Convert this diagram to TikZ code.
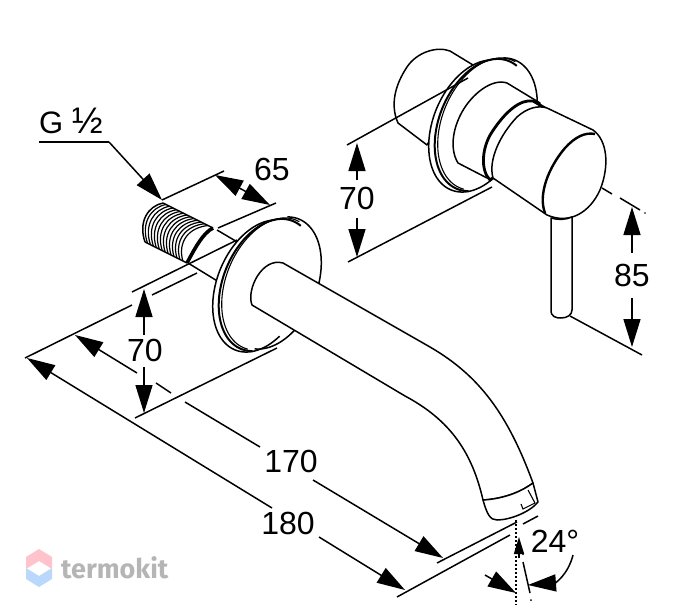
\documentclass[tikz,border=0pt]{standalone}
\usepackage{fontspec}
\setmainfont{Liberation Sans}
\newfontfamily\wmfont{Fira Sans}
\usetikzlibrary{arrows.meta}
\definecolor{wmblue}{HTML}{B9D8FB}
\definecolor{wmpink}{HTML}{FFC3CB}
\definecolor{wmgray}{HTML}{B5B5B5}
\newcommand{\ellarc}[8][]{%
  \draw[#1] plot[domain=#7:#8,samples=60,smooth,variable=\t]
  ({#2+#4*cos(\t)*cos(#6)+#5*sin(\t)*sin(#6)},{#3-#4*cos(\t)*sin(#6)+#5*sin(\t)*cos(#6)});}
\newcommand{\ellfill}[5]{%
  \fill[white] plot[domain=0:360,samples=60,smooth,variable=\t]
  ({#1+#3*cos(\t)*cos(#5)+#4*sin(\t)*sin(#5)},{#2-#3*cos(\t)*sin(#5)+#4*sin(\t)*cos(#5)}) -- cycle;}
\tikzset{
  ln/.style={line width=1.5pt,black,line join=round},
  thin ln/.style={line width=1.1pt,black},
  dimln/.style={line width=1.5pt,black},
  dimarrow/.style={line width=1.5pt,black,-{Triangle[length=28pt,width=17pt]}},
  dimshort/.style={line width=1.5pt,black,-{Triangle[length=17pt,width=10pt]}},
  dimtext/.style={inner sep=0pt,font=\fontsize{32}{34}\selectfont,text=black},
}
\begin{document}
\begin{tikzpicture}[x=1pt,y=-1pt]
\useasboundingbox (0,0) rectangle (673,613);
\fill[white] (0,0) rectangle (673,613);
% ---------- left figure : thread and nipple
\draw[ln] (217,230) -- (239,243);
\draw[ln] (188,263) -- (219,282);
\draw[ln] (163,203) -- (213,228);
\draw[ln] (145,242) -- (187,263);
\draw[ln] (163,203) .. controls (148,206) and (138,222) .. (145,242);
\foreach \s in {0.06,0.13,...,0.96}{
  \draw[line width=1.2pt] ({163+50*\s},{203+25*\s}) .. controls ({148+45*\s},{206+24*\s}) and ({138+44*\s},{222+22*\s}) .. ({145+42*\s},{242+21*\s});
}
\draw[line width=3.6pt] (213,228) .. controls (203,233) and (195,248) .. (187,263);
% ---------- left figure : flange
\ellfill{273}{283}{69}{44}{68}
\ellfill{261}{286}{69}{44}{68}
\ellarc[ln]{273}{283}{69}{44}{68}{-15}{170}
\ellarc[ln]{261}{286}{69}{44}{68}{125}{345}
\ellarc[line width=2pt]{267}{285}{69}{44}{68}{165}{372}
\ellarc[line width=1.1pt]{270}{284}{69}{44}{68}{175}{365}
% ---------- left figure : spout
\draw[ln,fill=white] (252,305) .. controls (246,290) and (262,257) .. (283,263)
  -- (430,347) .. controls (480,376) and (508,415) .. (533,483)
  .. controls (518,494) and (500,499) .. (483,500)
  .. controls (472,452) and (450,420) .. (405,396) -- cycle;
\draw[ln,fill=white] (483,500) .. controls (500,499) and (518,494) .. (533,483)
  -- (538,502) .. controls (530,512) and (510,520) .. (497,520)
  .. controls (490,520) and (487,514) .. (483,500) -- cycle;
\draw[thin ln] (528,490) -- (535,503) -- (523,509) -- (521,504);
% ---------- left figure : dimension lines
\node[inner sep=0pt,anchor=base west,font=\fontsize{31}{32}\selectfont,text=black] (gtext) at (39,133) {G {\fontsize{37}{38}\selectfont ½}};
\coordinate (g0) at (39,142); \coordinate (g1) at (109,142); \coordinate (g2) at (162,200);
\draw[ln] (g0) -- (g1);
\draw[dimarrow] (g1) -- (g2);
\coordinate (a65l1) at (162,200); \coordinate (a65l2) at (224,171);
\draw[dimln] (a65l1) -- (a65l2);
\coordinate (b65l1) at (218,228); \coordinate (b65l2) at (276,203);
\draw[dimln] (b65l1) -- (b65l2);
\coordinate (m65) at (243,190);
\draw[dimarrow] (m65) -- (215,175);
\draw[dimarrow] (m65) -- (270,205);
\node[dimtext] (t65) at (272,169) {65};
% 70 left
\coordinate (c1) at (237,240); \coordinate (c2) at (132,292);
\draw[dimln] (c1) -- (c2);
\coordinate (d1) at (277,348); \coordinate (d2) at (135,418);
\draw[dimln] (d1) -- (d2);
\node[dimtext] (t70a) at (145,350) {70};
\draw[dimarrow] (144,335) -- (144,289);
\draw[dimarrow] (144,367) -- (144,413);
% 180 extension
\coordinate (e1) at (25,358); \coordinate (e2) at (132,305);
\draw[dimln] (e1) -- (e2);
\draw[dimln] (152,295) -- (197,273);
% 170
\node[dimtext] (t170) at (291,461) {170};
\draw[dimarrow] (137,373) -- (75,335);
\draw[dimln] (156,383) -- (171,393);
\draw[dimln] (185,402) -- (260,447);
\draw[dimarrow] (313,480) -- (443,558);
\draw[dimln] (437,563) -- (517,522);
% 180
\node[dimtext] (t180) at (288,523) {180};
\draw[dimarrow] (272,508) -- (27,358);
\draw[dimarrow] (319,537) -- (405,590);
\draw[dimln] (397,597) -- (510,535);
\draw[dimln] (523,524) -- (538,516);
% 24
\draw[line width=2pt,dotted] (516,520) -- (516,605);
\draw[dimln] (523,562) -- (530,593);
\fill (523,554) circle (1pt) (531,600) circle (1pt);
\draw[dimshort] (519,558) -- (519,537);
\node[dimtext] (t24) at (555,541) {24°};
\draw[dimarrow] (485,575) -- (516,593);
\draw[dimarrow] (573,555) .. controls (568,575) and (555,583) .. (528,585);
% ---------- right figure
\draw[ln,fill=white] (427,145) -- (398,123) .. controls (390,105) and (395,85) .. (407,67)
  .. controls (417,52) and (437,46) .. (450,51) -- (473,65) -- cycle;
\ellfill{489}{124}{69}{44}{68}
\ellfill{477}{126}{69}{44}{68}
\ellarc[ln]{489}{124}{69}{44}{68}{-15}{130}
\ellarc[ln]{477}{126}{69}{44}{68}{125}{345}
\ellarc[line width=2pt]{483}{125}{69}{44}{68}{165}{372}
\ellarc[line width=1.1pt]{486}{124}{69}{44}{68}{175}{365}
% hub
\draw[ln,fill=white] (487,178) -- (458,163) .. controls (450,150) and (452,130) .. (462,112)
  .. controls (472,94) and (492,78) .. (507,83) -- (540,103) -- (530,150) -- cycle;
\draw[line width=2.8pt,fill=white] (490,180) .. controls (480,170) and (482,147) .. (492,132)
  .. controls (505,112) and (520,99) .. (533,101) -- (545,108) -- (530,150) -- cycle;
% handle
\draw[ln,fill=white] (493,178) .. controls (488,160) and (500,135) .. (517,117)
  .. controls (527,108) and (538,105) .. (547,108) -- (593,130)
  .. controls (607,140) and (610,165) .. (600,190)
  .. controls (590,212) and (570,225) .. (547,215) -- cycle;
\draw[line width=2.4pt] (545,213) .. controls (538,195) and (548,168) .. (565,148)
  .. controls (575,137) and (585,132) .. (595,134);
% lever
\draw[ln,fill=white] (551,218) -- (551,310) .. controls (551,317) and (556,318) .. (561,318)
  .. controls (567,318) and (572,315) .. (572,310) -- (572,217)
  .. controls (565,220) and (558,220) .. (551,218) -- cycle;
% dims right
\coordinate (f1) at (347,145); \coordinate (f2) at (468,78);
\draw[dimln] (f1) -- (f2);
\coordinate (g3) at (348,262); \coordinate (g4) at (492,187);
\draw[dimln] (g3) -- (g4);
\node[dimtext] (t70b) at (357,198) {70};
\draw[dimarrow] (357,180) -- (357,143);
\draw[dimarrow] (357,218) -- (357,257);
\draw[dimln] (602,188) -- (612,194);
\draw[dimln] (620,198) -- (640,210);
\fill (645,213) circle (0.9pt);
\draw[dimln] (570,316) -- (642,355);
\node[dimtext] (t85) at (632,275) {85};
\draw[dimarrow] (632,253) -- (632,207);
\draw[dimarrow] (632,298) -- (632,347);
% ---------- watermark
\fill[wmblue] (26,568) -- (39,576) -- (52,568) -- (52,579) -- (39,587) -- (26,579) -- cycle;
\fill[wmpink] (39,549) -- (52,557) -- (52,569) -- (39,561) -- (26,569) -- (26,557) -- cycle;
\node[inner sep=0pt,anchor=west,text=wmgray,font=\wmfont\bfseries\fontsize{27}{28}\selectfont] (wm) at (61,568) {termokit};
\end{tikzpicture}
\end{document}
